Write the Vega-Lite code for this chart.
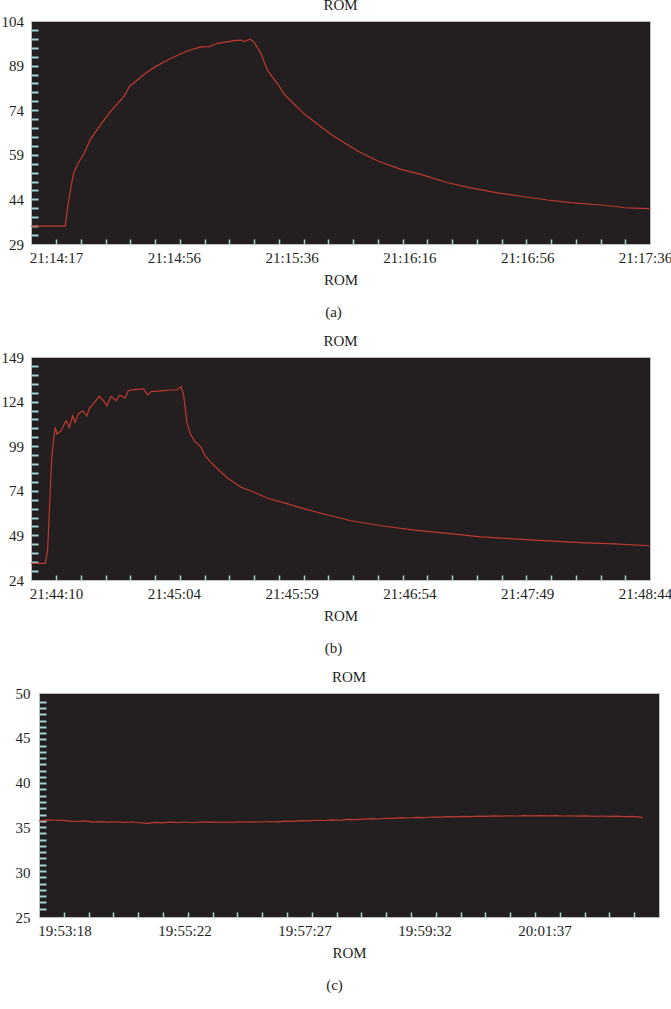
{
  "$schema": "https://vega.github.io/schema/vega-lite/v6.json",
  "padding": {"left": 0, "right": 0, "top": -3, "bottom": 0},
  "background": "white",
  "config": {
    "view": {"fill": "#231f20", "stroke": "#bdbdbd", "strokeWidth": 1},
    "font": "Liberation Serif",
    "axis": {"grid": false, "domain": false, "labelFont": "Liberation Serif", "labelFontSize": 15, "labelColor": "#231f20", "titleFont": "Liberation Serif", "titleFontSize": 15, "titleFontWeight": "normal", "titleColor": "#231f20", "labelOverlap": false, "labelFlush": false, "labelBound": false, "tickColor": "#a3d5d5"},
    "title": {"font": "Liberation Serif", "fontSize": 15, "fontWeight": "normal", "color": "#231f20", "offset": 1, "anchor": "middle"}
  },
  "columns": 1,
  "align": "none",
  "bounds": "full",
  "spacing": 13,
  "concat": [
    {
      "title": "ROM",
      "width": 619,
      "height": 223,
      "data": {"values": [
        {"time": "2012-01-01T21:14:08.6", "rom": 35},
        {"time": "2012-01-01T21:14:20.1", "rom": 35},
        {"time": "2012-01-01T21:14:21.0", "rom": 41.7},
        {"time": "2012-01-01T21:14:22.1", "rom": 48.5},
        {"time": "2012-01-01T21:14:23.0", "rom": 53},
        {"time": "2012-01-01T21:14:24.3", "rom": 55.8},
        {"time": "2012-01-01T21:14:26.6", "rom": 59.7},
        {"time": "2012-01-01T21:14:28.6", "rom": 64.2},
        {"time": "2012-01-01T21:14:32.2", "rom": 69.3},
        {"time": "2012-01-01T21:14:35.6", "rom": 73.8},
        {"time": "2012-01-01T21:14:40.1", "rom": 78.8},
        {"time": "2012-01-01T21:14:41.8", "rom": 82},
        {"time": "2012-01-01T21:14:46.8", "rom": 86.1},
        {"time": "2012-01-01T21:14:50.2", "rom": 88.4},
        {"time": "2012-01-01T21:14:54.7", "rom": 90.9},
        {"time": "2012-01-01T21:14:58.1", "rom": 92.5},
        {"time": "2012-01-01T21:15:01.5", "rom": 94},
        {"time": "2012-01-01T21:15:06.0", "rom": 95.3},
        {"time": "2012-01-01T21:15:08.8", "rom": 95.4},
        {"time": "2012-01-01T21:15:11.6", "rom": 96.5},
        {"time": "2012-01-01T21:15:17.2", "rom": 97.4},
        {"time": "2012-01-01T21:15:19.5", "rom": 97.6},
        {"time": "2012-01-01T21:15:20.6", "rom": 97.1},
        {"time": "2012-01-01T21:15:22.6", "rom": 97.9},
        {"time": "2012-01-01T21:15:24.0", "rom": 96.8},
        {"time": "2012-01-01T21:15:26.3", "rom": 92.9},
        {"time": "2012-01-01T21:15:28.5", "rom": 87.3},
        {"time": "2012-01-01T21:15:31.9", "rom": 82.8},
        {"time": "2012-01-01T21:15:34.1", "rom": 79.4},
        {"time": "2012-01-01T21:15:37.5", "rom": 76},
        {"time": "2012-01-01T21:15:40.9", "rom": 72.7},
        {"time": "2012-01-01T21:15:45.4", "rom": 69.3},
        {"time": "2012-01-01T21:15:49.9", "rom": 65.9},
        {"time": "2012-01-01T21:15:53.3", "rom": 63.7},
        {"time": "2012-01-01T21:15:58.9", "rom": 60.3},
        {"time": "2012-01-01T21:16:05.7", "rom": 56.9},
        {"time": "2012-01-01T21:16:13.6", "rom": 54.1},
        {"time": "2012-01-01T21:16:20.3", "rom": 52.4},
        {"time": "2012-01-01T21:16:29.3", "rom": 49.6},
        {"time": "2012-01-01T21:16:37.2", "rom": 47.9},
        {"time": "2012-01-01T21:16:46.2", "rom": 46.2},
        {"time": "2012-01-01T21:16:55.2", "rom": 44.9},
        {"time": "2012-01-01T21:17:03.1", "rom": 43.8},
        {"time": "2012-01-01T21:17:11.0", "rom": 42.9},
        {"time": "2012-01-01T21:17:20.0", "rom": 42.2},
        {"time": "2012-01-01T21:17:25.6", "rom": 41.7},
        {"time": "2012-01-01T21:17:29.0", "rom": 41.2},
        {"time": "2012-01-01T21:17:37.4", "rom": 40.9}
      ]},
      "layer": [
        {
          "mark": {"type": "line", "strokeOpacity": 0},
          "encoding": {
            "x": {"field": "time", "type": "temporal",
              "scale": {"domain": [{"year": 2012, "month": 1, "date": 1, "hours": 21, "minutes": 14, "seconds": 8, "milliseconds": 550}, {"year": 2012, "month": 1, "date": 1, "hours": 21, "minutes": 17, "seconds": 37, "milliseconds": 680}], "nice": false},
              "axis": {"orient": "bottom", "labels": false, "ticks": true, "tickSize": -5, "tickWidth": 1.5, "minExtent": 0, "maxExtent": 0, "title": "(a)", "titlePadding": 60, "titleX": 302,
                "values": [
                  {"year": 2012, "month": 1, "date": 1, "hours": 21, "minutes": 14, "seconds": 17, "milliseconds": 0},
                  {"year": 2012, "month": 1, "date": 1, "hours": 21, "minutes": 14, "seconds": 17, "milliseconds": 8365},
                  {"year": 2012, "month": 1, "date": 1, "hours": 21, "minutes": 14, "seconds": 17, "milliseconds": 16730},
                  {"year": 2012, "month": 1, "date": 1, "hours": 21, "minutes": 14, "seconds": 17, "milliseconds": 25095},
                  {"year": 2012, "month": 1, "date": 1, "hours": 21, "minutes": 14, "seconds": 17, "milliseconds": 33460},
                  {"year": 2012, "month": 1, "date": 1, "hours": 21, "minutes": 14, "seconds": 17, "milliseconds": 41825},
                  {"year": 2012, "month": 1, "date": 1, "hours": 21, "minutes": 14, "seconds": 17, "milliseconds": 50190},
                  {"year": 2012, "month": 1, "date": 1, "hours": 21, "minutes": 14, "seconds": 17, "milliseconds": 58555},
                  {"year": 2012, "month": 1, "date": 1, "hours": 21, "minutes": 14, "seconds": 17, "milliseconds": 66920},
                  {"year": 2012, "month": 1, "date": 1, "hours": 21, "minutes": 14, "seconds": 17, "milliseconds": 75285},
                  {"year": 2012, "month": 1, "date": 1, "hours": 21, "minutes": 14, "seconds": 17, "milliseconds": 83650},
                  {"year": 2012, "month": 1, "date": 1, "hours": 21, "minutes": 14, "seconds": 17, "milliseconds": 92015},
                  {"year": 2012, "month": 1, "date": 1, "hours": 21, "minutes": 14, "seconds": 17, "milliseconds": 100380},
                  {"year": 2012, "month": 1, "date": 1, "hours": 21, "minutes": 14, "seconds": 17, "milliseconds": 108745},
                  {"year": 2012, "month": 1, "date": 1, "hours": 21, "minutes": 14, "seconds": 17, "milliseconds": 117110},
                  {"year": 2012, "month": 1, "date": 1, "hours": 21, "minutes": 14, "seconds": 17, "milliseconds": 125475},
                  {"year": 2012, "month": 1, "date": 1, "hours": 21, "minutes": 14, "seconds": 17, "milliseconds": 133840},
                  {"year": 2012, "month": 1, "date": 1, "hours": 21, "minutes": 14, "seconds": 17, "milliseconds": 142205},
                  {"year": 2012, "month": 1, "date": 1, "hours": 21, "minutes": 14, "seconds": 17, "milliseconds": 150570},
                  {"year": 2012, "month": 1, "date": 1, "hours": 21, "minutes": 14, "seconds": 17, "milliseconds": 158935},
                  {"year": 2012, "month": 1, "date": 1, "hours": 21, "minutes": 14, "seconds": 17, "milliseconds": 167300},
                  {"year": 2012, "month": 1, "date": 1, "hours": 21, "minutes": 14, "seconds": 17, "milliseconds": 175665},
                  {"year": 2012, "month": 1, "date": 1, "hours": 21, "minutes": 14, "seconds": 17, "milliseconds": 184030},
                  {"year": 2012, "month": 1, "date": 1, "hours": 21, "minutes": 14, "seconds": 17, "milliseconds": 192395}
                ]}},
            "y": {"field": "rom", "type": "quantitative",
              "scale": {"domain": [29, 104], "nice": false, "zero": false},
              "axis": {"orient": "left", "labels": false, "ticks": true, "tickSize": -7, "tickWidth": 2, "minExtent": 0, "maxExtent": 0, "title": null,
                "values": [32, 35, 38, 41, 44, 47, 50, 53, 56, 59, 62, 65, 68, 71, 74, 77, 80, 83, 86, 89, 92, 95, 98, 101]}}
          }
        },
        {
          "mark": {"type": "line", "color": "#be3a2e", "strokeWidth": 1.2, "clip": true},
          "encoding": {
            "x": {"field": "time", "type": "temporal",
              "axis": {"orient": "bottom", "format": "%H:%M:%S", "ticks": false, "labelPadding": 6, "minExtent": 21, "maxExtent": 21, "title": "ROM", "titlePadding": 7,
                "values": [
                  {"year": 2012, "month": 1, "date": 1, "hours": 21, "minutes": 14, "seconds": 17, "milliseconds": 0},
                  {"year": 2012, "month": 1, "date": 1, "hours": 21, "minutes": 14, "seconds": 17, "milliseconds": 39800},
                  {"year": 2012, "month": 1, "date": 1, "hours": 21, "minutes": 14, "seconds": 17, "milliseconds": 79600},
                  {"year": 2012, "month": 1, "date": 1, "hours": 21, "minutes": 14, "seconds": 17, "milliseconds": 119400},
                  {"year": 2012, "month": 1, "date": 1, "hours": 21, "minutes": 14, "seconds": 17, "milliseconds": 159200},
                  {"year": 2012, "month": 1, "date": 1, "hours": 21, "minutes": 14, "seconds": 17, "milliseconds": 199000}
                ]}},
            "y": {"field": "rom", "type": "quantitative",
              "axis": {"orient": "left", "ticks": false, "labelPadding": 7.5, "minExtent": 30, "maxExtent": 40, "title": null, "values": [29, 44, 59, 74, 89, 104]}}
          }
        }
      ],
      "resolve": {"axis": {"x": "independent", "y": "independent"}}
    },
    {
      "title": "ROM",
      "width": 619,
      "height": 223,
      "data": {"values": [
        {"time": "2012-01-01T21:43:58.4", "rom": 33.3},
        {"time": "2012-01-01T21:44:05.0", "rom": 33.3},
        {"time": "2012-01-01T21:44:06.1", "rom": 40.4},
        {"time": "2012-01-01T21:44:06.6", "rom": 54.5},
        {"time": "2012-01-01T21:44:07.3", "rom": 73.2},
        {"time": "2012-01-01T21:44:08.0", "rom": 91.8},
        {"time": "2012-01-01T21:44:08.9", "rom": 103},
        {"time": "2012-01-01T21:44:09.7", "rom": 109.6},
        {"time": "2012-01-01T21:44:10.5", "rom": 105.8},
        {"time": "2012-01-01T21:44:12.3", "rom": 107.7},
        {"time": "2012-01-01T21:44:14.7", "rom": 113.3},
        {"time": "2012-01-01T21:44:16.2", "rom": 109.6},
        {"time": "2012-01-01T21:44:17.8", "rom": 116.1},
        {"time": "2012-01-01T21:44:18.8", "rom": 112.4},
        {"time": "2012-01-01T21:44:20.4", "rom": 117.1},
        {"time": "2012-01-01T21:44:22.4", "rom": 118.9},
        {"time": "2012-01-01T21:44:24.4", "rom": 116.1},
        {"time": "2012-01-01T21:44:25.5", "rom": 120.2},
        {"time": "2012-01-01T21:44:28.6", "rom": 124.5},
        {"time": "2012-01-01T21:44:30.1", "rom": 127},
        {"time": "2012-01-01T21:44:31.7", "rom": 125.1},
        {"time": "2012-01-01T21:44:33.7", "rom": 121.7},
        {"time": "2012-01-01T21:44:35.6", "rom": 127},
        {"time": "2012-01-01T21:44:37.9", "rom": 124.5},
        {"time": "2012-01-01T21:44:39.8", "rom": 127.7},
        {"time": "2012-01-01T21:44:42.1", "rom": 125.9},
        {"time": "2012-01-01T21:44:43.6", "rom": 130.1},
        {"time": "2012-01-01T21:44:46.4", "rom": 130.7},
        {"time": "2012-01-01T21:44:50.8", "rom": 131.1},
        {"time": "2012-01-01T21:44:52.7", "rom": 127.7},
        {"time": "2012-01-01T21:44:54.2", "rom": 129.6},
        {"time": "2012-01-01T21:44:58.8", "rom": 130},
        {"time": "2012-01-01T21:45:03.5", "rom": 130.5},
        {"time": "2012-01-01T21:45:06.3", "rom": 130.5},
        {"time": "2012-01-01T21:45:08.2", "rom": 132.4},
        {"time": "2012-01-01T21:45:09.4", "rom": 127.3},
        {"time": "2012-01-01T21:45:10.9", "rom": 112.4},
        {"time": "2012-01-01T21:45:12.5", "rom": 105.8},
        {"time": "2012-01-01T21:45:14.3", "rom": 102.1},
        {"time": "2012-01-01T21:45:17.5", "rom": 98.4},
        {"time": "2012-01-01T21:45:19.3", "rom": 93.7},
        {"time": "2012-01-01T21:45:22.1", "rom": 89.9},
        {"time": "2012-01-01T21:45:25.2", "rom": 86.2},
        {"time": "2012-01-01T21:45:29.9", "rom": 81},
        {"time": "2012-01-01T21:45:36.1", "rom": 76},
        {"time": "2012-01-01T21:45:42.2", "rom": 73.2},
        {"time": "2012-01-01T21:45:48.5", "rom": 69.8},
        {"time": "2012-01-01T21:45:56.2", "rom": 67.2},
        {"time": "2012-01-01T21:46:04.0", "rom": 64.4},
        {"time": "2012-01-01T21:46:13.3", "rom": 61.4},
        {"time": "2012-01-01T21:46:22.6", "rom": 58.6},
        {"time": "2012-01-01T21:46:27.2", "rom": 57.2},
        {"time": "2012-01-01T21:46:41.2", "rom": 54.4},
        {"time": "2012-01-01T21:46:56.7", "rom": 52},
        {"time": "2012-01-01T21:47:12.2", "rom": 50.1},
        {"time": "2012-01-01T21:47:27.7", "rom": 48.2},
        {"time": "2012-01-01T21:47:43.2", "rom": 47},
        {"time": "2012-01-01T21:47:58.7", "rom": 45.9},
        {"time": "2012-01-01T21:48:14.2", "rom": 44.9},
        {"time": "2012-01-01T21:48:29.7", "rom": 44.2},
        {"time": "2012-01-01T21:48:46.0", "rom": 43.2}
      ]},
      "layer": [
        {
          "mark": {"type": "line", "strokeOpacity": 0},
          "encoding": {
            "x": {"field": "time", "type": "temporal",
              "scale": {"domain": [{"year": 2012, "month": 1, "date": 1, "hours": 21, "minutes": 43, "seconds": 58, "milliseconds": 370}, {"year": 2012, "month": 1, "date": 1, "hours": 21, "minutes": 48, "seconds": 46, "milliseconds": 330}], "nice": false},
              "axis": {"orient": "bottom", "labels": false, "ticks": true, "tickSize": -5, "tickWidth": 1.5, "minExtent": 0, "maxExtent": 0, "title": "(b)", "titlePadding": 60, "titleX": 302,
                "values": [
                  {"year": 2012, "month": 1, "date": 1, "hours": 21, "minutes": 44, "seconds": 10, "milliseconds": 0},
                  {"year": 2012, "month": 1, "date": 1, "hours": 21, "minutes": 44, "seconds": 10, "milliseconds": 11518},
                  {"year": 2012, "month": 1, "date": 1, "hours": 21, "minutes": 44, "seconds": 10, "milliseconds": 23036},
                  {"year": 2012, "month": 1, "date": 1, "hours": 21, "minutes": 44, "seconds": 10, "milliseconds": 34554},
                  {"year": 2012, "month": 1, "date": 1, "hours": 21, "minutes": 44, "seconds": 10, "milliseconds": 46072},
                  {"year": 2012, "month": 1, "date": 1, "hours": 21, "minutes": 44, "seconds": 10, "milliseconds": 57590},
                  {"year": 2012, "month": 1, "date": 1, "hours": 21, "minutes": 44, "seconds": 10, "milliseconds": 69108},
                  {"year": 2012, "month": 1, "date": 1, "hours": 21, "minutes": 44, "seconds": 10, "milliseconds": 80626},
                  {"year": 2012, "month": 1, "date": 1, "hours": 21, "minutes": 44, "seconds": 10, "milliseconds": 92144},
                  {"year": 2012, "month": 1, "date": 1, "hours": 21, "minutes": 44, "seconds": 10, "milliseconds": 103662},
                  {"year": 2012, "month": 1, "date": 1, "hours": 21, "minutes": 44, "seconds": 10, "milliseconds": 115180},
                  {"year": 2012, "month": 1, "date": 1, "hours": 21, "minutes": 44, "seconds": 10, "milliseconds": 126698},
                  {"year": 2012, "month": 1, "date": 1, "hours": 21, "minutes": 44, "seconds": 10, "milliseconds": 138216},
                  {"year": 2012, "month": 1, "date": 1, "hours": 21, "minutes": 44, "seconds": 10, "milliseconds": 149734},
                  {"year": 2012, "month": 1, "date": 1, "hours": 21, "minutes": 44, "seconds": 10, "milliseconds": 161252},
                  {"year": 2012, "month": 1, "date": 1, "hours": 21, "minutes": 44, "seconds": 10, "milliseconds": 172770},
                  {"year": 2012, "month": 1, "date": 1, "hours": 21, "minutes": 44, "seconds": 10, "milliseconds": 184288},
                  {"year": 2012, "month": 1, "date": 1, "hours": 21, "minutes": 44, "seconds": 10, "milliseconds": 195806},
                  {"year": 2012, "month": 1, "date": 1, "hours": 21, "minutes": 44, "seconds": 10, "milliseconds": 207324},
                  {"year": 2012, "month": 1, "date": 1, "hours": 21, "minutes": 44, "seconds": 10, "milliseconds": 218842},
                  {"year": 2012, "month": 1, "date": 1, "hours": 21, "minutes": 44, "seconds": 10, "milliseconds": 230360},
                  {"year": 2012, "month": 1, "date": 1, "hours": 21, "minutes": 44, "seconds": 10, "milliseconds": 241878},
                  {"year": 2012, "month": 1, "date": 1, "hours": 21, "minutes": 44, "seconds": 10, "milliseconds": 253396},
                  {"year": 2012, "month": 1, "date": 1, "hours": 21, "minutes": 44, "seconds": 10, "milliseconds": 264914}
                ]}},
            "y": {"field": "rom", "type": "quantitative",
              "scale": {"domain": [24, 149], "nice": false, "zero": false},
              "axis": {"orient": "left", "labels": false, "ticks": true, "tickSize": -7, "tickWidth": 2, "minExtent": 0, "maxExtent": 0, "title": null,
                "values": [29, 34, 39, 44, 49, 54, 59, 64, 69, 74, 79, 84, 89, 94, 99, 104, 109, 114, 119, 124, 129, 134, 139, 144]}}
          }
        },
        {
          "mark": {"type": "line", "color": "#be3a2e", "strokeWidth": 1.2, "clip": true},
          "encoding": {
            "x": {"field": "time", "type": "temporal",
              "axis": {"orient": "bottom", "format": "%H:%M:%S", "ticks": false, "labelPadding": 6, "minExtent": 21, "maxExtent": 21, "title": "ROM", "titlePadding": 7,
                "values": [
                  {"year": 2012, "month": 1, "date": 1, "hours": 21, "minutes": 44, "seconds": 10, "milliseconds": 0},
                  {"year": 2012, "month": 1, "date": 1, "hours": 21, "minutes": 44, "seconds": 10, "milliseconds": 54800},
                  {"year": 2012, "month": 1, "date": 1, "hours": 21, "minutes": 44, "seconds": 10, "milliseconds": 109600},
                  {"year": 2012, "month": 1, "date": 1, "hours": 21, "minutes": 44, "seconds": 10, "milliseconds": 164400},
                  {"year": 2012, "month": 1, "date": 1, "hours": 21, "minutes": 44, "seconds": 10, "milliseconds": 219200},
                  {"year": 2012, "month": 1, "date": 1, "hours": 21, "minutes": 44, "seconds": 10, "milliseconds": 274000}
                ]}},
            "y": {"field": "rom", "type": "quantitative",
              "axis": {"orient": "left", "ticks": false, "labelPadding": 7.5, "minExtent": 30, "maxExtent": 40, "title": null, "values": [24, 49, 74, 99, 124, 149]}}
          }
        }
      ],
      "resolve": {"axis": {"x": "independent", "y": "independent"}}
    },
    {
      "columns": 2,
      "align": "none",
      "bounds": "full",
      "spacing": -31,
      "concat": [
        {
          "width": 1,
          "height": 1,
          "view": {"fill": null, "stroke": null, "fillOpacity": 0, "strokeOpacity": 0},
          "data": {"values": []},
          "mark": "point"
        },
        {
          "title": "ROM",
          "width": 620,
          "height": 224,
          "data": {"values": [
            {"time": "2012-01-01T19:52:51.5", "rom": 35.72},
            {"time": "2012-01-01T19:53:00", "rom": 35.85},
            {"time": "2012-01-01T19:53:08", "rom": 35.8},
            {"time": "2012-01-01T19:53:16", "rom": 35.78},
            {"time": "2012-01-01T19:53:24", "rom": 35.7},
            {"time": "2012-01-01T19:53:32", "rom": 35.66},
            {"time": "2012-01-01T19:53:40", "rom": 35.72},
            {"time": "2012-01-01T19:53:48", "rom": 35.6},
            {"time": "2012-01-01T19:53:56", "rom": 35.64},
            {"time": "2012-01-01T19:54:04", "rom": 35.58},
            {"time": "2012-01-01T19:54:12", "rom": 35.63},
            {"time": "2012-01-01T19:54:20", "rom": 35.55},
            {"time": "2012-01-01T19:54:28", "rom": 35.6},
            {"time": "2012-01-01T19:54:36", "rom": 35.52},
            {"time": "2012-01-01T19:54:44", "rom": 35.45},
            {"time": "2012-01-01T19:54:52", "rom": 35.57},
            {"time": "2012-01-01T19:55:00", "rom": 35.5},
            {"time": "2012-01-01T19:55:08", "rom": 35.58},
            {"time": "2012-01-01T19:55:16", "rom": 35.54},
            {"time": "2012-01-01T19:55:24", "rom": 35.6},
            {"time": "2012-01-01T19:55:32", "rom": 35.52},
            {"time": "2012-01-01T19:55:40", "rom": 35.58},
            {"time": "2012-01-01T19:55:48", "rom": 35.62},
            {"time": "2012-01-01T19:55:56", "rom": 35.55},
            {"time": "2012-01-01T19:56:04", "rom": 35.6},
            {"time": "2012-01-01T19:56:12", "rom": 35.57},
            {"time": "2012-01-01T19:56:20", "rom": 35.63},
            {"time": "2012-01-01T19:56:28", "rom": 35.58},
            {"time": "2012-01-01T19:56:36", "rom": 35.62},
            {"time": "2012-01-01T19:56:44", "rom": 35.6},
            {"time": "2012-01-01T19:56:52", "rom": 35.66},
            {"time": "2012-01-01T19:57:00", "rom": 35.62},
            {"time": "2012-01-01T19:57:08", "rom": 35.7},
            {"time": "2012-01-01T19:57:16", "rom": 35.68},
            {"time": "2012-01-01T19:57:24", "rom": 35.76},
            {"time": "2012-01-01T19:57:32", "rom": 35.72},
            {"time": "2012-01-01T19:57:40", "rom": 35.8},
            {"time": "2012-01-01T19:57:48", "rom": 35.77},
            {"time": "2012-01-01T19:57:56", "rom": 35.84},
            {"time": "2012-01-01T19:58:04", "rom": 35.8},
            {"time": "2012-01-01T19:58:12", "rom": 35.9},
            {"time": "2012-01-01T19:58:20", "rom": 35.86},
            {"time": "2012-01-01T19:58:28", "rom": 35.92},
            {"time": "2012-01-01T19:58:36", "rom": 35.98},
            {"time": "2012-01-01T19:58:44", "rom": 35.94},
            {"time": "2012-01-01T19:58:52", "rom": 36.02},
            {"time": "2012-01-01T19:59:00", "rom": 36},
            {"time": "2012-01-01T19:59:08", "rom": 36.08},
            {"time": "2012-01-01T19:59:16", "rom": 36.05},
            {"time": "2012-01-01T19:59:24", "rom": 36.12},
            {"time": "2012-01-01T19:59:32", "rom": 36.1},
            {"time": "2012-01-01T19:59:40", "rom": 36.16},
            {"time": "2012-01-01T19:59:48", "rom": 36.14},
            {"time": "2012-01-01T19:59:56", "rom": 36.2},
            {"time": "2012-01-01T20:00:04", "rom": 36.18},
            {"time": "2012-01-01T20:00:12", "rom": 36.23},
            {"time": "2012-01-01T20:00:20", "rom": 36.2},
            {"time": "2012-01-01T20:00:28", "rom": 36.26},
            {"time": "2012-01-01T20:00:36", "rom": 36.24},
            {"time": "2012-01-01T20:00:44", "rom": 36.28},
            {"time": "2012-01-01T20:00:52", "rom": 36.25},
            {"time": "2012-01-01T20:01:00", "rom": 36.3},
            {"time": "2012-01-01T20:01:08", "rom": 36.27},
            {"time": "2012-01-01T20:01:16", "rom": 36.31},
            {"time": "2012-01-01T20:01:24", "rom": 36.28},
            {"time": "2012-01-01T20:01:32", "rom": 36.32},
            {"time": "2012-01-01T20:01:40", "rom": 36.29},
            {"time": "2012-01-01T20:01:48", "rom": 36.31},
            {"time": "2012-01-01T20:01:56", "rom": 36.27},
            {"time": "2012-01-01T20:02:04", "rom": 36.3},
            {"time": "2012-01-01T20:02:12", "rom": 36.26},
            {"time": "2012-01-01T20:02:20", "rom": 36.28},
            {"time": "2012-01-01T20:02:28", "rom": 36.24},
            {"time": "2012-01-01T20:02:36", "rom": 36.27},
            {"time": "2012-01-01T20:02:44", "rom": 36.22},
            {"time": "2012-01-01T20:02:52", "rom": 36.25},
            {"time": "2012-01-01T20:03:00", "rom": 36.2},
            {"time": "2012-01-01T20:03:08", "rom": 36.23},
            {"time": "2012-01-01T20:03:16", "rom": 36.15},
            {"time": "2012-01-01T20:03:19", "rom": 36.1}
          ]},
          "layer": [
            {
              "mark": {"type": "line", "strokeOpacity": 0},
              "encoding": {
                "x": {"field": "time", "type": "temporal",
                  "scale": {"domain": [{"year": 2012, "month": 1, "date": 1, "hours": 19, "minutes": 52, "seconds": 51, "milliseconds": 500}, {"year": 2012, "month": 1, "date": 1, "hours": 20, "minutes": 3, "seconds": 36, "milliseconds": 0}], "nice": false},
                  "axis": {"orient": "bottom", "labels": false, "ticks": true, "tickSize": -5, "tickWidth": 1.5, "minExtent": 0, "maxExtent": 0, "title": "(c)", "titlePadding": 60, "titleX": 295,
                    "values": [
                      {"year": 2012, "month": 1, "date": 1, "hours": 19, "minutes": 53, "seconds": 17, "milliseconds": 300},
                      {"year": 2012, "month": 1, "date": 1, "hours": 19, "minutes": 53, "seconds": 17, "milliseconds": 26080},
                      {"year": 2012, "month": 1, "date": 1, "hours": 19, "minutes": 53, "seconds": 17, "milliseconds": 51860},
                      {"year": 2012, "month": 1, "date": 1, "hours": 19, "minutes": 53, "seconds": 17, "milliseconds": 77640},
                      {"year": 2012, "month": 1, "date": 1, "hours": 19, "minutes": 53, "seconds": 17, "milliseconds": 103420},
                      {"year": 2012, "month": 1, "date": 1, "hours": 19, "minutes": 53, "seconds": 17, "milliseconds": 129200},
                      {"year": 2012, "month": 1, "date": 1, "hours": 19, "minutes": 53, "seconds": 17, "milliseconds": 154980},
                      {"year": 2012, "month": 1, "date": 1, "hours": 19, "minutes": 53, "seconds": 17, "milliseconds": 180760},
                      {"year": 2012, "month": 1, "date": 1, "hours": 19, "minutes": 53, "seconds": 17, "milliseconds": 206540},
                      {"year": 2012, "month": 1, "date": 1, "hours": 19, "minutes": 53, "seconds": 17, "milliseconds": 232320},
                      {"year": 2012, "month": 1, "date": 1, "hours": 19, "minutes": 53, "seconds": 17, "milliseconds": 258100},
                      {"year": 2012, "month": 1, "date": 1, "hours": 19, "minutes": 53, "seconds": 17, "milliseconds": 283880},
                      {"year": 2012, "month": 1, "date": 1, "hours": 19, "minutes": 53, "seconds": 17, "milliseconds": 309660},
                      {"year": 2012, "month": 1, "date": 1, "hours": 19, "minutes": 53, "seconds": 17, "milliseconds": 335440},
                      {"year": 2012, "month": 1, "date": 1, "hours": 19, "minutes": 53, "seconds": 17, "milliseconds": 361220},
                      {"year": 2012, "month": 1, "date": 1, "hours": 19, "minutes": 53, "seconds": 17, "milliseconds": 387000},
                      {"year": 2012, "month": 1, "date": 1, "hours": 19, "minutes": 53, "seconds": 17, "milliseconds": 412780},
                      {"year": 2012, "month": 1, "date": 1, "hours": 19, "minutes": 53, "seconds": 17, "milliseconds": 438560},
                      {"year": 2012, "month": 1, "date": 1, "hours": 19, "minutes": 53, "seconds": 17, "milliseconds": 464340},
                      {"year": 2012, "month": 1, "date": 1, "hours": 19, "minutes": 53, "seconds": 17, "milliseconds": 490120},
                      {"year": 2012, "month": 1, "date": 1, "hours": 19, "minutes": 53, "seconds": 17, "milliseconds": 515900},
                      {"year": 2012, "month": 1, "date": 1, "hours": 19, "minutes": 53, "seconds": 17, "milliseconds": 541680},
                      {"year": 2012, "month": 1, "date": 1, "hours": 19, "minutes": 53, "seconds": 17, "milliseconds": 567460},
                      {"year": 2012, "month": 1, "date": 1, "hours": 19, "minutes": 53, "seconds": 17, "milliseconds": 593240}
                    ]}},
                "y": {"field": "rom", "type": "quantitative",
                  "scale": {"domain": [25, 50], "nice": false, "zero": false},
                  "axis": {"orient": "left", "labels": false, "ticks": true, "tickSize": -7, "tickWidth": 2, "minExtent": 0, "maxExtent": 0, "title": null,
                    "values": [25.93, 26.63, 27.33, 28.03, 28.73, 29.43, 30.13, 30.83, 31.53, 32.23, 32.93, 33.63, 34.33, 35.03, 35.73, 36.43, 37.13, 37.83, 38.53, 39.23, 39.93, 40.63, 41.33, 42.03, 42.73, 43.43, 44.13, 44.83, 45.53, 46.23, 46.93, 47.63, 48.33, 49.03]}}
              }
            },
            {
              "mark": {"type": "line", "color": "#be3a2e", "strokeWidth": 1.2, "clip": true},
              "encoding": {
                "x": {"field": "time", "type": "temporal",
                  "axis": {"orient": "bottom", "format": "%H:%M:%S", "ticks": false, "labelPadding": 6, "minExtent": 21, "maxExtent": 21, "title": "ROM", "titlePadding": 7,
                    "values": [
                      {"year": 2012, "month": 1, "date": 1, "hours": 19, "minutes": 53, "seconds": 18, "milliseconds": 0},
                      {"year": 2012, "month": 1, "date": 1, "hours": 19, "minutes": 53, "seconds": 18, "milliseconds": 124750},
                      {"year": 2012, "month": 1, "date": 1, "hours": 19, "minutes": 53, "seconds": 18, "milliseconds": 249500},
                      {"year": 2012, "month": 1, "date": 1, "hours": 19, "minutes": 53, "seconds": 18, "milliseconds": 374250},
                      {"year": 2012, "month": 1, "date": 1, "hours": 19, "minutes": 53, "seconds": 18, "milliseconds": 499000}
                    ]}},
                "y": {"field": "rom", "type": "quantitative",
                  "axis": {"orient": "left", "ticks": false, "labelPadding": 9, "minExtent": 37, "maxExtent": 40, "title": null, "values": [25, 30, 35, 40, 45, 50]}}
              }
            }
          ],
          "resolve": {"axis": {"x": "independent", "y": "independent"}}
        }
      ]
    }
  ]
}
